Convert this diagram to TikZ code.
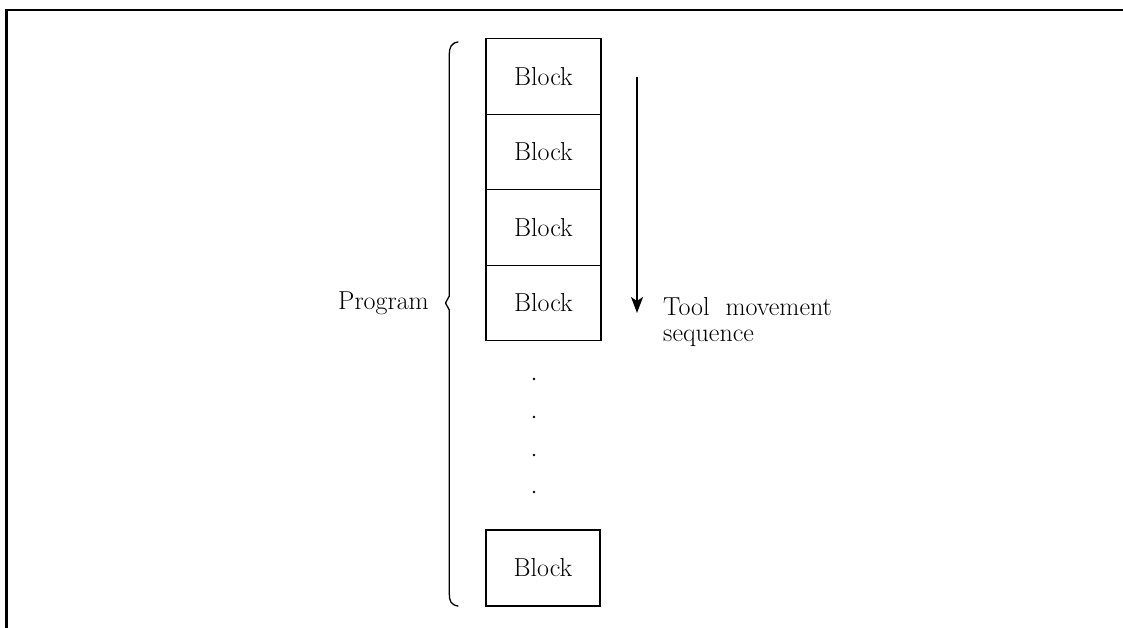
\documentclass[tikz,border=0pt]{standalone}
\usetikzlibrary{arrows.meta}
\begin{document}
\begin{tikzpicture}[x=1pt,y=-1pt,
  lbl/.style={font=\fontsize{26}{30}\selectfont, inner sep=0pt},
  blockbox/.style={draw, line width=1.3pt, minimum width=115pt, minimum height=75.5pt, inner sep=0pt, font=\fontsize{26}{30}\selectfont},
  conn/.style={line width=1.3pt},
  dotmark/.style={fill, circle, inner sep=0pt, minimum size=2.8pt}]
\useasboundingbox (0,0) rectangle (1123,628);
% frame
\coordinate (fb) at (6.5,628);
\coordinate (fc) at (6.5,10);
\coordinate (fr) at (1123,10);
\draw[line width=2.6pt] (fb) -- (fc) -- (fr);
% blocks
\node[blockbox] (b1) at (543.5,76.5) {Block};
\node[blockbox] (b2) at (543.5,152) {Block};
\node[blockbox] (b3) at (543.5,227.5) {Block};
\node[blockbox] (b4) at (543.5,303) {Block};
\node[blockbox, minimum width=114pt, minimum height=76pt] (b5) at (543,568) {Block};
% dots
\node[dotmark] (d1) at (534,379) {};
\node[dotmark] (d2) at (534,417) {};
\node[dotmark] (d3) at (534,455) {};
\node[dotmark] (d4) at (534,492) {};
% brace
\coordinate (bt) at (458,42);
\coordinate (bm) at (445.5,303);
\coordinate (bb) at (458,606);
\draw[conn, line cap=round] (bt) .. controls (451,43) and (449.3,48) .. (449.3,54)
  -- (449.3,296) -- (bm) -- (449.3,310) -- (449.3,594)
  .. controls (449.3,601) and (451,605) .. (bb);
\node[lbl, anchor=base] (prog) at (383.5,309) {Program};
% arrow
\coordinate (as) at (637,77);
\coordinate (ae) at (637,313);
\draw[conn, -{Stealth[length=16pt,width=12pt,inset=4pt]}] (as) -- (ae);
\node[lbl, anchor=base west] (t1) at (663,315) {Tool\hspace{16pt}movement};
\node[lbl, anchor=base west] (t2) at (663,341) {sequence};
\end{tikzpicture}
\end{document}
